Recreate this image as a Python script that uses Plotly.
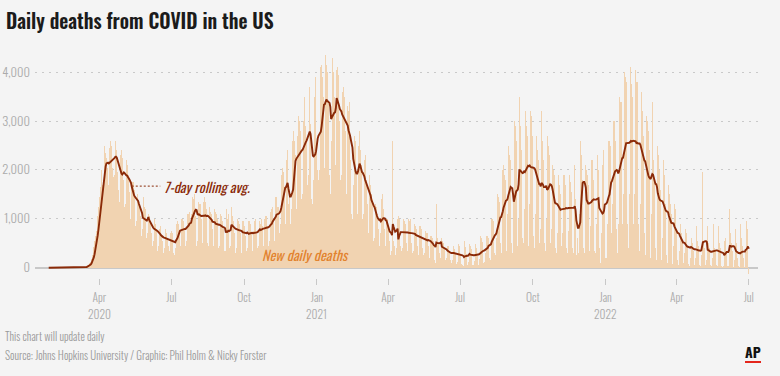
import pandas as pd
import plotly.graph_objects as go

START_DATE = "2020-01-22"

# Daily reported deaths (estimated from the chart), rows are Sun..Sat weeks
deaths_2020 = [
    0, 0, 0, 0,                                   # Jan 22-25
    0, 0, 0, 0, 0, 0, 0,
    0, 0, 0, 0, 0, 0, 0,
    0, 0, 0, 0, 0, 0, 0,
    0, 0, 0, 0, 0, 0, 0,
    0, 0, 0, 0, 0, 0, 1,                          # Feb 23-29
    0, 1, 1, 2, 1, 3, 2,
    4, 4, 6, 9, 10, 12, 10,
    20, 30, 45, 60, 80, 100, 110,
    180, 250, 330, 430, 540, 650, 760,
    900, 1050, 1250, 1450, 1650, 1850, 2000,      # Mar 29
    1700, 1800, 2350, 2500, 2350, 2250, 2050,
    1750, 1700, 2450, 2600, 2500, 2350, 2050,
    1850, 1900, 2600, 2650, 2400, 1950, 1600,
    1350, 1500, 2300, 2400, 2250, 2050, 1800,     # Apr 26
    1250, 1300, 2200, 2350, 2100, 1900, 1550,
    1000, 1050, 1650, 1750, 1750, 1600, 1350,
    850, 950, 1500, 1550, 1350, 1250, 1050,
    650, 500, 800, 1450, 1250, 1200, 950,
    600, 700, 1100, 1050, 1000, 900, 700,         # May 31
    450, 550, 950, 1000, 900, 800, 650,
    350, 450, 800, 850, 750, 650, 550,
    300, 400, 750, 800, 700, 600, 450,
    300, 350, 700, 750, 700, 550, 300,            # Jun 28
    250, 400, 950, 900, 950, 900, 750,
    450, 450, 1000, 1000, 950, 900, 800,
    450, 550, 1100, 1150, 1100, 1150, 900,
    500, 1100, 1450, 1400, 1500, 1300, 1050,      # Jul 26
    450, 550, 1350, 1450, 1300, 1300, 1000,
    500, 550, 1350, 1450, 1350, 1200, 1050,
    500, 450, 1250, 1350, 1150, 1100, 800,
    450, 450, 1200, 1150, 1100, 1000, 850,
    400, 450, 1100, 1050, 1050, 950, 800,         # Aug 30
    350, 350, 500, 1200, 1000, 1100, 750,
    400, 450, 1250, 1050, 900, 950, 700,
    300, 400, 1100, 1000, 950, 900, 700,
    300, 300, 950, 950, 900, 850, 650,            # Sep 27
    350, 400, 750, 950, 950, 900, 700,
    350, 350, 750, 950, 1000, 900, 750,
    400, 450, 950, 1050, 900, 1000, 850,
    400, 450, 1000, 1050, 1050, 950, 850,
    450, 550, 1150, 1150, 1200, 1250, 1000,       # Nov 1
    550, 700, 1450, 1450, 1250, 1250, 1100,
    700, 900, 1900, 2100, 2050, 1950, 1650,
    900, 1000, 2200, 2400, 1300, 1500, 900,
    900, 1200, 2600, 2800, 2900, 2600, 2300,      # Nov 29
    1200, 1400, 2700, 3100, 3000, 2800, 2400,
    1400, 1500, 3000, 3500, 3300, 2900, 2600,
    1700, 1900, 3400, 3700, 2950, 1400, 1300,
    1400, 1800, 3500, 3900, 3400,                 # Dec 27-31
]

deaths_2021 = [
    2500, 2000,                                   # Jan 1-2
    1800, 2000, 3700, 4100, 4150, 3900, 3500,
    2000, 2050, 4350, 4150, 4000, 3800, 3350,
    1900, 1500, 2600, 4400, 4300, 4000, 3500,
    1950, 2100, 4050, 4100, 3950, 3600, 3000,
    1800, 1900, 3600, 3850, 3700, 3500, 2800,     # Jan 31
    1500, 1700, 3300, 3200, 3400, 3000, 2200,
    1100, 1000, 1700, 2500, 2700, 2600, 1900,
    1100, 1300, 2500, 2800, 2400, 2100, 1500,
    1000, 1100, 2200, 2300, 2100, 1800, 1300,     # Feb 28
    700, 800, 1900, 1700, 1500, 1400, 1000,
    550, 600, 1300, 1250, 1300, 1100, 800,
    450, 700, 1050, 1400, 1500, 1200, 800,
    400, 450, 1000, 1000, 950, 850, 550,          # Mar 28
    250, 350, 700, 2600, 550, 450, 260,
    350, 400, 1000, 1050, 1000, 850, 450,
    350, 400, 1050, 1000, 950, 900, 500,
    300, 350, 1000, 950, 1000, 850, 500,
    300, 350, 900, 950, 850, 800, 450,            # May 2
    250, 300, 850, 850, 800, 700, 400,
    250, 300, 750, 800, 700, 700, 450,
    200, 300, 650, 650, 600, 550, 250,
    150, 100, 1300, 600, 550, 500, 300,           # May 30
    200, 250, 600, 550, 500, 400, 200,
    150, 200, 450, 450, 400, 350, 150,
    100, 150, 500, 450, 380, 300, 100,
    80, 120, 480, 450, 350, 250, 70,              # Jun 27
    60, 40, 300, 550, 420, 280, 60,
    60, 120, 480, 450, 380, 230, 60,
    60, 130, 520, 480, 400, 240, 60,
    80, 180, 650, 600, 520, 330, 90,
    120, 300, 650, 700, 650, 600, 200,            # Aug 1
    150, 400, 1000, 1000, 950, 850, 300,
    250, 600, 1500, 1550, 1450, 1350, 500,
    300, 900, 2000, 2100, 1900, 1800, 600,
    350, 1100, 2500, 2500, 2300, 2200, 500,       # Aug 29
    300, 250, 1400, 3000, 2900, 2600, 600,
    450, 1000, 3500, 2900, 2700, 2400, 600,
    500, 1200, 3400, 3200, 2900, 2700, 700,
    450, 1300, 3200, 3100, 2900, 2700, 650,       # Sep 26
    400, 1100, 2700, 2700, 2400, 2200, 500,
    350, 800, 3200, 2600, 2200, 1900, 500,
    350, 1000, 2600, 2700, 2500, 2300, 500,
    300, 800, 2100, 2000, 1900, 1700, 400,
    300, 700, 1900, 1800, 1700, 1500, 450,        # Oct 31
    300, 700, 1900, 1900, 1700, 1600, 400,
    300, 750, 1900, 1900, 1750, 1550, 400,
    300, 800, 2100, 1400, 250, 600, 250,
    300, 1100, 2600, 3800, 2300, 1800, 400,       # Nov 28
    300, 800, 2100, 2000, 1900, 1700, 400,
    350, 850, 2200, 2200, 2000, 1800, 350,
    300, 900, 2300, 2300, 2000, 400, 150,
    100, 700, 2100, 2400, 2300, 1300,             # Dec 26-31
]

deaths_2022 = [
    200,                                          # Jan 1
    200, 900, 2700, 2600, 2600, 2500, 700,
    400, 1300, 3000, 3000, 2900, 2600, 800,
    300, 900, 3300, 3500, 3400, 3400, 900,
    350, 1500, 4000, 3900, 3800, 3400, 900,
    400, 1500, 4100, 4050, 3750, 3500, 900,       # Jan 30
    350, 1500, 4050, 3800, 3800, 3400, 900,
    350, 1300, 3600, 3500, 3200, 2700, 700,
    250, 700, 3100, 3000, 2800, 2400, 500,
    200, 1100, 3400, 2900, 2200, 1800, 400,       # Feb 27
    150, 700, 2500, 2300, 2000, 1600, 350,
    150, 600, 2200, 1900, 1700, 1300, 250,
    100, 500, 1700, 1500, 1300, 1100, 200,
    80, 450, 1300, 1200, 1000, 800, 150,          # Mar 27
    60, 350, 1000, 900, 700, 500, 100,
    50, 300, 800, 700, 600, 450, 80,
    40, 200, 900, 600, 500, 350, 60,
    40, 200, 850, 550, 450, 300, 60,
    30, 250, 1950, 600, 500, 400, 60,             # May 1
    30, 150, 850, 500, 400, 300, 50,
    30, 200, 900, 550, 400, 350, 50,
    30, 150, 850, 500, 400, 250, 40,
    20, 30, 550, 700, 600, 300, 40,               # May 29
    30, 250, 1200, 700, 500, 350, 50,
    20, 150, 800, 500, 400, 200, 30,
    20, 100, 900, 600, 450, 200, 30,
    20, 350, 950, 800, 690, -130,                 # Jun 26 - Jul 1
]

Y_TICKS = [0, 1000, 2000, 3000, 4000]
X_TICKS = ["2020-04-01", "2020-07-01", "2020-10-01", "2021-01-01", "2021-04-01",
           "2021-07-01", "2021-10-01", "2022-01-01", "2022-04-01", "2022-07-01"]
X_LABELS = ["Apr", "Jul", "Oct", "Jan", "Apr", "Jul", "Oct", "Jan", "Apr", "Jul"]
YEAR_TICKS = ["2020-04-01", "2021-01-01", "2022-01-01"]
YEAR_LABELS = ["2020", "2021", "2022"]

TITLE = "Daily deaths from COVID in the US"
NOTE = "This chart will update daily"
SOURCE = "Source: Johns Hopkins University / Graphic: Phil Holm & Nicky Forster"

daily = deaths_2020 + deaths_2021 + deaths_2022
dates = pd.date_range(START_DATE, periods=len(daily), freq="D")
series = pd.Series(daily, index=dates)
rolling = series.rolling(7).mean()

COND = "Oswald, Roboto Condensed, sans-serif"
BG = "#f4f4f4"
BAR = "#f1d3b1"
LINE = "#8a2a08"
GRAY = "#ababab"

W, H = 780, 376
L, R, T, B = 35, 22, 50, 98
PW, PH = W - L - R, H - T - B


def px(xpix):
    return (xpix - L) / PW


def py(ypix):
    return (H - B - ypix) / PH


fig = go.Figure()
fig.add_trace(go.Bar(
    x=dates, y=daily, width=86400000, marker=dict(color=BAR, line=dict(width=0)),
    hoverinfo="skip", showlegend=False,
))
fig.add_trace(go.Scatter(
    x=dates, y=rolling, mode="lines", line=dict(color=LINE, width=1.9),
    hoverinfo="skip", showlegend=False,
))

fig.update_layout(
    width=W, height=H,
    margin=dict(l=L, r=R, t=T, b=B, pad=0, autoexpand=False),
    paper_bgcolor=BG, plot_bgcolor=BG,
    bargap=0,
    showlegend=False,
    xaxis=dict(
        type="date", range=["2020-01-10 16:00", "2022-07-12 16:00"],
        tickvals=X_TICKS, ticktext=X_LABELS, automargin=False,
        ticks="outside", ticklen=6, tickcolor="#c8c8c8", tickwidth=1,
        ticklabelstandoff=3,
        showgrid=False, showline=False, zeroline=False,
        tickfont=dict(family=COND, size=11.5, color=GRAY, weight=300),
    ),
    yaxis=dict(
        range=[-211, 4456], tickvals=Y_TICKS, tickformat=",", automargin=False,
        showgrid=True, gridcolor="#c9c9c9", griddash="2px,5px", gridwidth=1,
        zeroline=True, zerolinecolor="#c8c8c8", zerolinewidth=2,
        showline=False, ticks="", ticklabelstandoff=4,
        tickfont=dict(family=COND, size=12.5, color=GRAY, weight=300),
    ),
)

for tick, label in zip(YEAR_TICKS, YEAR_LABELS):
    fig.add_annotation(text=label, xref="x", yref="paper", x=tick, y=py(313),
                       xanchor="center", yanchor="middle", showarrow=False,
                       font=dict(family=COND, size=11.5, color=GRAY, weight=300))

fig.add_annotation(text=TITLE, xref="paper", yref="paper", x=px(4), y=py(21),
                   xanchor="left", yanchor="middle", showarrow=False,
                   font=dict(family=COND, size=19.6, color="#1b1b1b", weight=600))

# leader for the rolling-average label
fig.add_shape(type="line", xref="x", yref="y",
              x0="2020-05-12", x1="2020-06-17", y0=1670, y1=1670,
              line=dict(color=LINE, width=1, dash="2px,2px"))

fig.add_annotation(text="<i>7-day rolling avg.</i>", xref="x", yref="y",
                   x="2020-06-19", y=1670, xanchor="left", yanchor="middle",
                   showarrow=False, font=dict(family=COND, size=14, color=LINE))
fig.add_annotation(text="<i>New daily deaths</i>", xref="x", yref="y",
                   x="2020-10-21", y=260, xanchor="left", yanchor="middle",
                   showarrow=False, font=dict(family=COND, size=14, color="#e2832f"))

fig.add_annotation(text=NOTE, xref="paper", yref="paper", x=px(3), y=py(336),
                   xanchor="left", yanchor="middle", showarrow=False,
                   font=dict(family=COND, size=11, color="#9a9a9a", weight=300))
fig.add_annotation(text=SOURCE, xref="paper", yref="paper", x=px(3), y=py(355),
                   xanchor="left", yanchor="middle", showarrow=False,
                   font=dict(family=COND, size=11, color="#9a9a9a", weight=300))
fig.add_annotation(text="<b>AP</b>", xref="paper", yref="paper", x=px(753), y=py(351),
                   xanchor="center", yanchor="middle", showarrow=False,
                   font=dict(family=COND, size=14, color="#111111"))
fig.add_shape(type="line", xref="paper", yref="paper",
              x0=px(745), x1=px(761), y0=py(362), y1=py(362),
              line=dict(color="#e4261c", width=2))

# the page's default 8px body margin would offset the figure inside the window
fig.write_html("out.html",
               config={"displayModeBar": False, "staticPlot": True},
               post_script="document.body.style.margin='0';"
                           "document.body.style.background='" + BG + "';")
